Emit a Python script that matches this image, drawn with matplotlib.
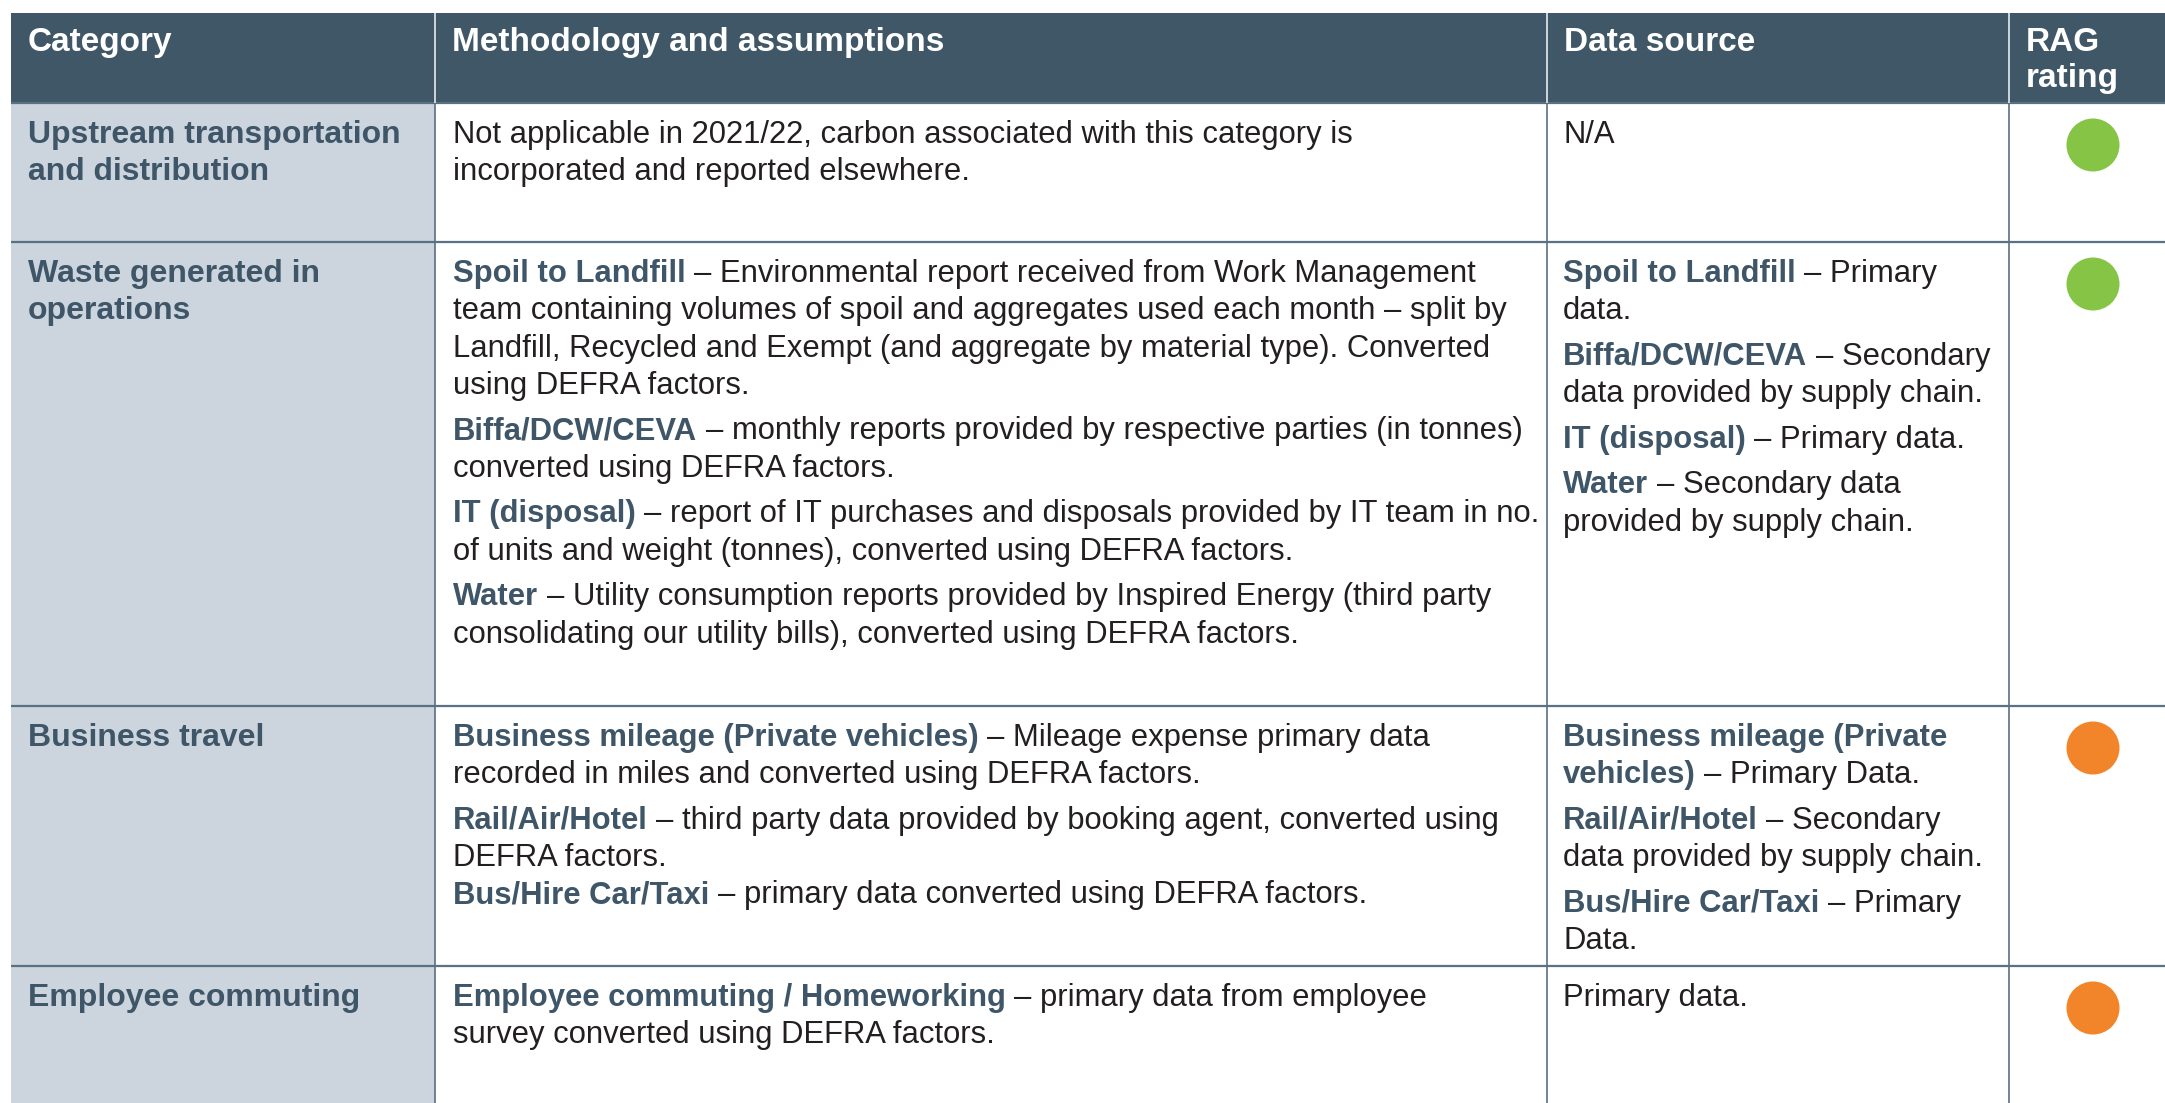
import matplotlib
matplotlib.use("Agg")
import matplotlib.pyplot as plt
from matplotlib.patches import Rectangle, Ellipse

plt.rcParams['font.family'] = ['Liberation Sans', 'DejaVu Sans']

# ---------------- data ----------------
headers = ["Category", "Methodology and assumptions", "Data source", "RAG\nrating"]

categories = [
    "Upstream transportation\nand distribution",
    "Waste generated in\noperations",
    "Business travel",
    "Employee commuting",
]

# each cell: list of paragraphs; each paragraph: list of lines (bold part, regular part)
methodology = [
    [[("", "Not applicable in 2021/22, carbon associated with this category is"),
      ("", "incorporated and reported elsewhere.")]],
    [[("Spoil to Landfill", "– Environmental report received from Work Management"),
      ("", "team containing volumes of spoil and aggregates used each month – split by"),
      ("", "Landfill, Recycled and Exempt (and aggregate by material type). Converted"),
      ("", "using DEFRA factors.")],
     [("Biffa/DCW/CEVA", "– monthly reports provided by respective parties (in tonnes)"),
      ("", "converted using DEFRA factors.")],
     [("IT (disposal)", "– report of IT purchases and disposals provided by IT team in no."),
      ("", "of units and weight (tonnes), converted using DEFRA factors.")],
     [("Water", "– Utility consumption reports provided by Inspired Energy (third party"),
      ("", "consolidating our utility bills), converted using DEFRA factors.")]],
    [[("Business mileage (Private vehicles)", "– Mileage expense primary data"),
      ("", "recorded in miles and converted using DEFRA factors.")],
     [("Rail/Air/Hotel", "– third party data provided by booking agent, converted using"),
      ("", "DEFRA factors.")],
     [("Bus/Hire Car/Taxi", "– primary data converted using DEFRA factors.")]],
    [[("Employee commuting / Homeworking", "– primary data from employee"),
      ("", "survey converted using DEFRA factors.")]],
]

data_source = [
    [[("", "N/A")]],
    [[("Spoil to Landfill", "– Primary"), ("", "data.")],
     [("Biffa/DCW/CEVA", "– Secondary"), ("", "data provided by supply chain.")],
     [("IT (disposal)", "– Primary data.")],
     [("Water", "– Secondary data"), ("", "provided by supply chain.")]],
    [[("Business mileage (Private", ""), ("vehicles)", "– Primary Data.")],
     [("Rail/Air/Hotel", "– Secondary"), ("", "data provided by supply chain.")],
     [("Bus/Hire Car/Taxi", "– Primary"), ("", "Data.")]],
    [[("", "Primary data.")]],
]

rag_rating = ["Green", "Green", "Amber", "Amber"]

# ---------------- style / layout ----------------
W, H = 2165, 1103
HEADER_BG = "#405768"
CAT_BG = "#ccd5dd"
SLATE = "#3e5668"
BODY = "#231f20"
GRID = "#5a7083"
RAG_COLORS = {"Green": "#85c444", "Amber": "#f2842a"}

col_x = [11, 435, 1547, 2009, 2200]
row_y = [13, 103, 242, 706, 966, 1140]
PADX = 17
FIRST = 40      # first baseline below row top
LS = 37.3       # line spacing
PG = 8.3        # extra paragraph gap
FS = 22.3
FS_CAT = 23
FS_H = 24

fig = plt.figure(figsize=(W / 100, H / 100), dpi=100)
ax = fig.add_axes([0, 0, 1, 1])
ax.set_xlim(0, W)
ax.set_ylim(H, 0)
ax.axis("off")
renderer = fig.canvas.get_renderer()

# backgrounds
ax.add_patch(Rectangle((col_x[0], row_y[0]), col_x[-1] - col_x[0], row_y[1] - row_y[0],
                       facecolor=HEADER_BG, edgecolor="none", zorder=1))
ax.add_patch(Rectangle((col_x[0], row_y[1]), col_x[1] - col_x[0], row_y[-1] - row_y[1],
                       facecolor=CAT_BG, edgecolor="none", zorder=1))

# grid lines
for y in row_y[1:-1]:
    ax.plot([col_x[0], col_x[-1]], [y, y], color=GRID, lw=1.6, zorder=2, solid_capstyle="butt")
for x in col_x[1:-1]:
    ax.plot([x, x], [row_y[1], row_y[-1]], color=GRID, lw=1.2, zorder=2, solid_capstyle="butt")
    ax.plot([x, x], [row_y[0], row_y[1]], color="#e6ebef", lw=1.2, zorder=2, solid_capstyle="butt")


def text_w(s, **kw):
    t = ax.text(0, 0, s, **kw)
    w = t.get_window_extent(renderer=renderer).width
    t.remove()
    return w


space_w = text_w("x x", fontsize=FS) - text_w("xx", fontsize=FS)


def draw_line(x, y, bold, reg):
    if bold:
        t = ax.text(x, y, bold, fontsize=FS, fontweight="bold", color=SLATE, va="baseline", zorder=3)
        w = t.get_window_extent(renderer=renderer).width
        x = x + w + space_w
    if reg:
        ax.text(x, y, reg, fontsize=FS, color=BODY, va="baseline", zorder=3)


def draw_cell(x, top, paragraphs, tight_last=False):
    y = top + FIRST
    for pi, para in enumerate(paragraphs):
        if pi > 0:
            y += LS + (PG if not (tight_last and pi == len(paragraphs) - 1) else 0)
        for li, (b, r) in enumerate(para):
            if li > 0:
                y += LS
            draw_line(x, y, b, r)


# header
for i, h in enumerate(headers):
    for li, line in enumerate(h.split("\n")):
        ax.text(col_x[i] + PADX, row_y[0] + 38 + li * 36, line, fontsize=FS_H, fontweight="bold",
                color="white", va="baseline", zorder=3)

# body rows
for r in range(len(categories)):
    top = row_y[r + 1]
    for li, line in enumerate(categories[r].split("\n")):
        ax.text(col_x[0] + PADX, top + FIRST + li * LS, line, fontsize=FS_CAT, fontweight="bold",
                color=SLATE, va="baseline", zorder=3)
    draw_cell(col_x[1] + 18, top, methodology[r], tight_last=(r == 2))
    draw_cell(col_x[2] + 16, top, data_source[r])
    ax.add_patch(Ellipse((2093, top + 42), 53, 53, facecolor=RAG_COLORS[rag_rating[r]],
                         edgecolor="none", zorder=3))

fig.savefig("out.png", dpi=100)
